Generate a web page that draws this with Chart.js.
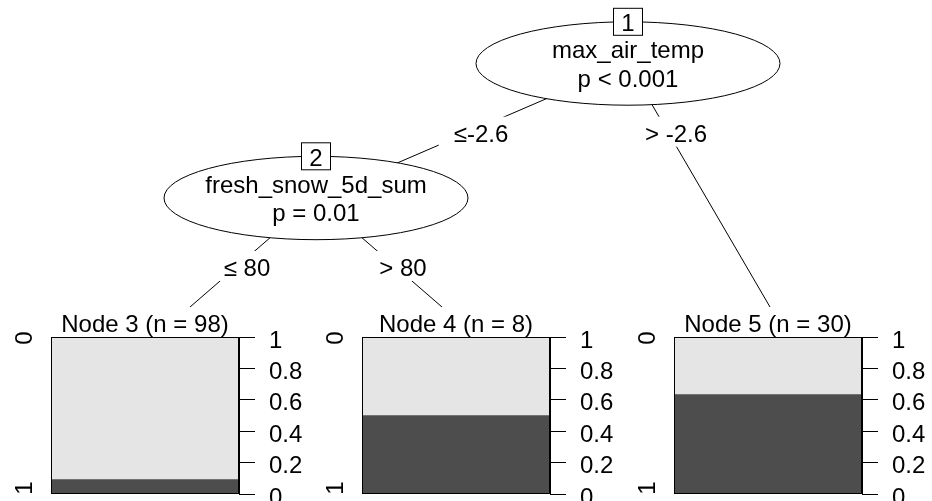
<!DOCTYPE html>
<html>
<head>
<meta charset="utf-8">
<script src="https://cdn.jsdelivr.net/npm/chart.js@4.4.1/dist/chart.umd.min.js"></script>
<style>
  html, body { margin: 0; padding: 0; background: #fff; overflow: hidden; }
  #wrap { position: relative; width: 932px; height: 501px; overflow: hidden; }
  #wrap canvas { position: absolute; }
</style>
</head>
<body>
<div id="wrap">
  <canvas id="tree" width="932" height="501" style="left:0;top:0"></canvas>
  <canvas id="node3" width="328" height="220"></canvas>
  <canvas id="node4" width="328" height="220"></canvas>
  <canvas id="node5" width="328" height="220"></canvas>
</div>
<script>
// terminal nodes: id, size and class counts
const nodeIds = [3, 4, 5];
const nodeN = [98, 8, 30];
const count1 = [9, 4, 19];
const count0 = [89, 4, 11];
const classLevels = ['0', '1'];
const yTicks = [0, 0.2, 0.4, 0.6, 0.8, 1];

// inner nodes and splits
const innerIds = [1, 2];
const splitVars = ['max_air_temp', 'fresh_snow_5d_sum'];
const splitP = ['p < 0.001', 'p = 0.01'];
const edgeLabels = ['\u2264-2.6', '> -2.6', '\u2264 80', '> 80'];

const FAMILY = '"Liberation Sans", Arial, sans-serif';
const FONT = '24px ' + FAMILY;
Chart.defaults.font.family = FAMILY;

// layout of the tree (pixels)
const panelLeft = [51, 362, 674];
const canvasTop = 303;
const inner = [{ x: 628, y: 63.5 }, { x: 316, y: 198 }];
const RX = 152, RY = 41.7;
const tips = [{ x: 190, y: 307 }, { x: 442, y: 307 }, { x: 770, y: 307 }];
const edges = [
  { a: inner[0], b: inner[1], lx: 481, ly: 131.7 },
  { a: inner[0], b: tips[2], lx: 676, ly: 131.7 },
  { a: inner[1], b: tips[0], lx: 247, ly: 266 },
  { a: inner[1], b: tips[1], lx: 403, ly: 266 }
];

const treePlugin = {
  id: 'tree',
  afterDraw(chart) {
    const ctx = chart.ctx;
    ctx.save();
    ctx.strokeStyle = '#000';
    ctx.lineWidth = 1;
    ctx.font = FONT;
    ctx.fillStyle = '#000';
    ctx.textAlign = 'center';
    ctx.textBaseline = 'alphabetic';

    edges.forEach((e, i) => {
      ctx.beginPath();
      ctx.moveTo(e.a.x, e.a.y);
      ctx.lineTo(e.b.x, e.b.y);
      ctx.stroke();
      const w = ctx.measureText(edgeLabels[i]).width + 30;
      ctx.fillStyle = '#fff';
      ctx.fillRect(e.lx - w / 2, e.ly - 15, w, 30);
      ctx.fillStyle = '#000';
      ctx.fillText(edgeLabels[i], e.lx, e.ly + 10);
    });

    inner.forEach((n, i) => {
      ctx.beginPath();
      ctx.ellipse(n.x, n.y, RX, RY, 0, 0, Math.PI * 2);
      ctx.fillStyle = '#fff';
      ctx.fill();
      ctx.stroke();
      ctx.fillStyle = '#000';
      ctx.fillText(splitVars[i], n.x, n.y - 5.5);
      ctx.fillText(splitP[i], n.x, n.y + 23);

      const by = n.y - RY;
      ctx.fillStyle = '#fff';
      ctx.fillRect(n.x - 15, by - 14, 30, 28);
      ctx.strokeRect(n.x - 15 + 0.5, by - 14 + 0.5, 29, 27);
      ctx.fillStyle = '#000';
      ctx.fillText(String(innerIds[i]), n.x, by + 9.5);
    });
    ctx.restore();
  }
};

new Chart(document.getElementById('tree'), {
  type: 'scatter',
  data: { datasets: [] },
  options: {
    responsive: false,
    animation: false,
    events: [],
    scales: { x: { display: false }, y: { display: false } },
    plugins: { legend: { display: false }, tooltip: { enabled: false } }
  },
  plugins: [treePlugin]
});

// frame round the bar and the class labels on the left
const framePlugin = {
  id: 'frame',
  afterDatasetsDraw(chart) {
    const { ctx, chartArea: a } = chart;
    ctx.save();
    ctx.strokeStyle = '#000';
    ctx.lineWidth = 1;
    ctx.strokeRect(a.left + 0.5, a.top + 0.5, a.right - a.left - 1, a.bottom - a.top - 1);

    ctx.font = FONT;
    ctx.fillStyle = '#000';
    ctx.textAlign = 'center';
    ctx.textBaseline = 'alphabetic';
    const x = a.left - 19;
    [[classLevels[0], a.top + 1], [classLevels[1], a.bottom - 6]].forEach(([t, y]) => {
      ctx.save();
      ctx.translate(x, y);
      ctx.rotate(-Math.PI / 2);
      ctx.fillText(t, 0, 0);
      ctx.restore();
    });
    ctx.restore();
  }
};

function terminalChart(i) {
  const el = document.getElementById('node' + nodeIds[i]);
  el.style.left = (panelLeft[i] - 70) + 'px';
  el.style.top = canvasTop + 'px';
  return new Chart(el, {
    type: 'bar',
    data: {
      labels: [''],
      datasets: [
        { label: classLevels[1], data: [count1[i] / nodeN[i]], backgroundColor: '#4d4d4d' },
        { label: classLevels[0], data: [count0[i] / nodeN[i]], backgroundColor: '#e5e5e5' }
      ]
    },
    options: {
      responsive: false,
      animation: false,
      events: [],
      layout: { padding: { left: 70, right: 0, top: 0, bottom: 29 } },
      datasets: { bar: { barPercentage: 1, categoryPercentage: 1 } },
      scales: {
        x: { stacked: true, display: false },
        y: {
          stacked: true,
          position: 'right',
          min: 0,
          max: 1,
          afterBuildTicks: s => { s.ticks = yTicks.map(v => ({ value: v })); },
          afterFit: s => { s.width = 70; },
          ticks: {
            autoSkip: false,
            color: '#000',
            padding: 14,
            font: { size: 24, lineHeight: '8px' },
            // empty first line nudges the label a few pixels below its tick, as R does
            callback: v => ['', String(v)]
          },
          grid: { drawOnChartArea: false, drawTicks: true, tickLength: 16, color: '#000' },
          border: { display: true, color: '#000' }
        }
      },
      plugins: {
        legend: { display: false },
        tooltip: { enabled: false },
        title: {
          display: true,
          fullSize: false,
          text: 'Node ' + nodeIds[i] + ' (n = ' + nodeN[i] + ')',
          color: '#000',
          font: { size: 24, weight: 'normal', lineHeight: 1 },
          padding: { top: 10, bottom: 0 }
        }
      }
    },
    plugins: [framePlugin]
  });
}

nodeIds.forEach((id, i) => terminalChart(i));
</script>
</body>
</html>
